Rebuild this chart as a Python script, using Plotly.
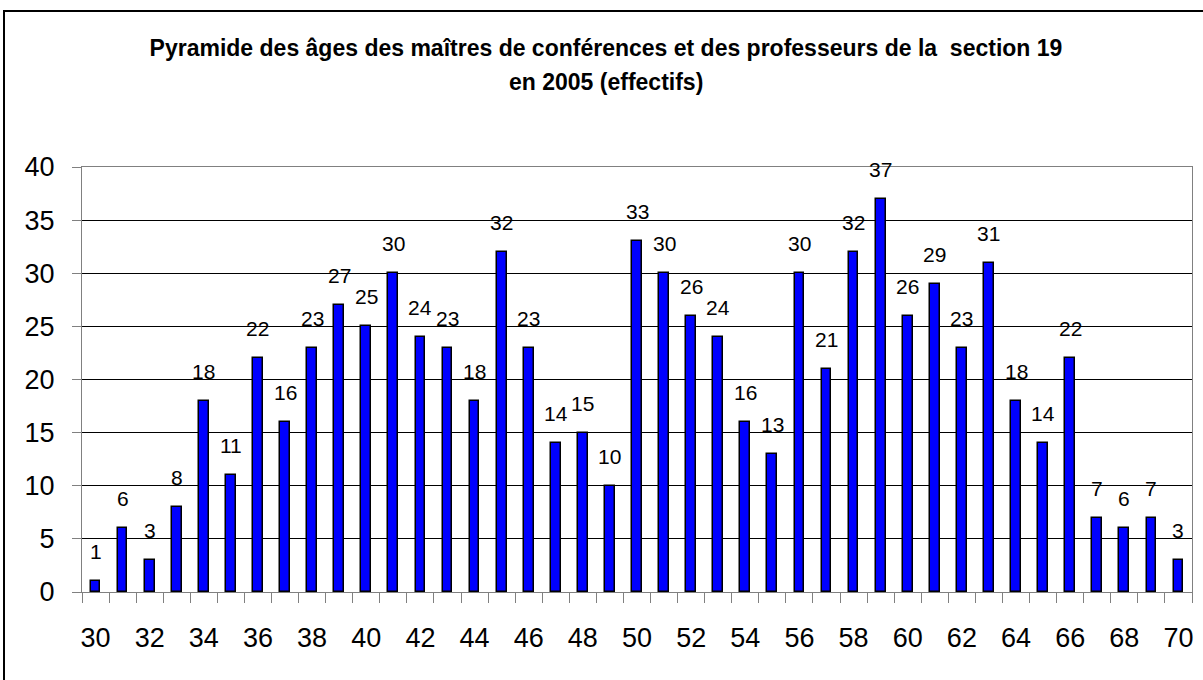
import plotly.graph_objects as go

ages = list(range(30, 71))
counts = [1, 6, 3, 8, 18, 11, 22, 16, 23, 27, 25, 30, 24, 23, 18, 32, 23, 14, 15, 10,
          33, 30, 26, 24, 16, 13, 30, 21, 32, 37, 26, 29, 23, 31, 18, 14, 22, 7, 6, 7, 3]
tick_labels = [str(a) for a in range(30, 71, 2)]
title_line1 = "Pyramide des âges des maîtres de conférences et des professeurs de la  section 19"
title_line2 = "en 2005 (effectifs)"

W, H = 1203, 680
L, R, T, B = 82, 11, 167, 88
pw, ph = W - L - R, H - T - B

FONT = "Liberation Sans, Arial, sans-serif"

fig = go.Figure()
fig.add_trace(go.Bar(
    x=ages, y=counts, width=0.36,
    marker=dict(color="#0000FF", line=dict(color="#000000", width=1.5)),
    hoverinfo="x+y", showlegend=False,
))

annotations = []
for a, c in zip(ages, counts):
    annotations.append(dict(x=a, y=c, xref="x", yref="y", text=str(c), showarrow=False,
                            yanchor="bottom", xanchor="center", yshift=16,
                            font=dict(family=FONT, size=21, color="#000000")))

annotations.append(dict(x=(606 - L) / pw, y=(H - B - 82) / ph, xref="paper", yref="paper",
                        text="<b>%s</b>" % title_line2,
                        showarrow=False, xanchor="center", yanchor="middle",
                        font=dict(family=FONT, size=23, color="#000000")))

fig.update_layout(
    width=W, height=H,
    margin=dict(l=L, r=R, t=T, b=B),
    paper_bgcolor="white", plot_bgcolor="white",
    title=dict(text="<b>%s</b>" % title_line1, x=606 / W, xanchor="center",
               y=1 - 48 / H, yanchor="middle", yref="container",
               font=dict(family=FONT, size=23, color="#000000")),
    font=dict(family=FONT, color="#000000"),
    annotations=annotations,
    bargap=0,
    xaxis=dict(range=[29.5, 70.5], tickmode="array", tickvals=list(range(30, 71, 2)),
               ticktext=tick_labels, ticks="", showgrid=False, zeroline=False,
               showline=True, linecolor="#808080", linewidth=1, mirror=True,
               tickfont=dict(family=FONT, size=27, color="#000000"),
               ticklabelstandoff=22,
               minor=dict(tick0=29.5, dtick=1, ticks="outside", ticklen=10,
                          tickcolor="#808080", tickwidth=1, showgrid=False)),
    yaxis=dict(range=[0, 40], tickmode="array", tickvals=list(range(0, 41, 5)),
               ticks="outside", ticklen=9, tickcolor="#808080", tickwidth=1,
               showgrid=True, gridcolor="#000000", gridwidth=1,
               zeroline=True, zerolinecolor="#000000", zerolinewidth=1,
               showline=True, linecolor="#808080", linewidth=1, mirror=True,
               tickfont=dict(family=FONT, size=27, color="#000000"),
               ticklabelstandoff=12),
    shapes=[dict(type="rect", xref="paper", yref="paper",
                 x0=(4 - L) / pw, x1=(W + 10 - L) / pw,
                 y0=(H - B - (H + 10)) / ph, y1=(H - B - 11) / ph,
                 line=dict(color="#000000", width=2), fillcolor="rgba(0,0,0,0)", layer="above")],
)

fig.write_html("out.html",
               config={"displayModeBar": False},
               post_script="document.body.style.margin='0';document.body.style.padding='0';")
